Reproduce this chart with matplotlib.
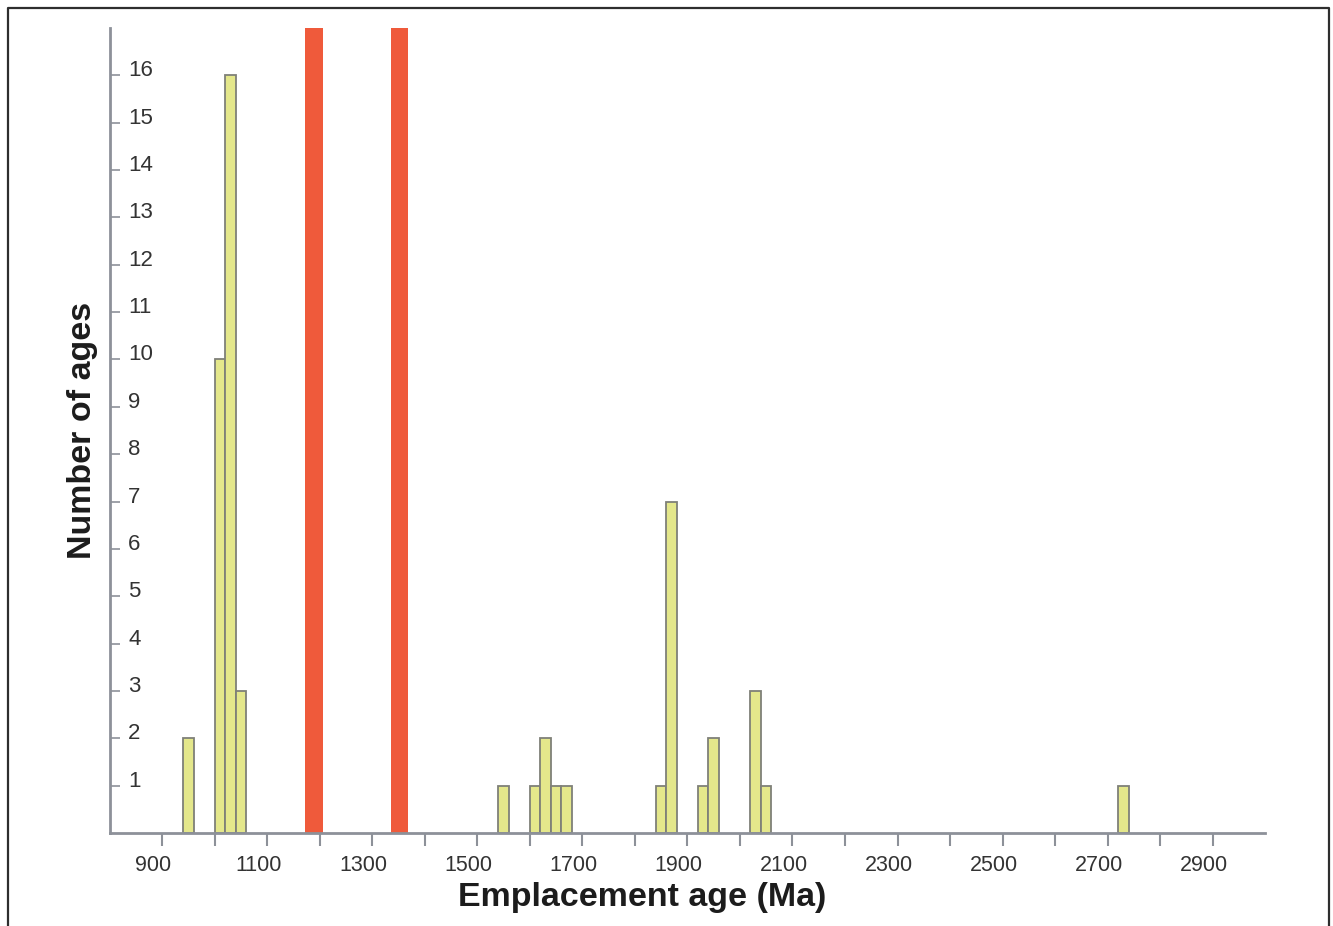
import numpy as np
import matplotlib
matplotlib.use("Agg")
import matplotlib.pyplot as plt
from matplotlib.lines import Line2D
from matplotlib.transforms import ScaledTranslation

plt.rcParams["font.family"] = ["Liberation Sans", "DejaVu Sans"]

# histogram bins (20 Ma wide, left edges) and counts
bin_starts = [940, 1000, 1020, 1040, 1540, 1600, 1620, 1640, 1660,
              1840, 1860, 1920, 1940, 2020, 2040, 2720]
counts = [2, 10, 16, 3, 1, 1, 2, 1, 1, 1, 7, 1, 2, 3, 1, 1]
bin_width = 20
# highlighted age bands (Ma)
bands = [(1172, 1205), (1336, 1368)]

x_major = list(range(900, 3000, 200))
x_minor = list(range(1000, 3000, 200))
y_ticks = list(range(1, 17))

axis_col = "#8d9199"
fig = plt.figure(figsize=(13.33, 9.26), dpi=100)
ax = fig.add_axes([0.0825, 0.1004, 0.8665, 0.8694])

for lo, hi in bands:
    ax.axvspan(lo, hi, color="#ef5a3b", lw=0, zorder=1)

ax.bar(bin_starts, counts, width=bin_width, align="edge", color="#e4e78b",
       edgecolor="#7f8078", linewidth=1.3, zorder=2)

ax.set_xlim(800, 3000)
ax.set_ylim(0, 17)
for s in ["top", "right"]:
    ax.spines[s].set_visible(False)
for s in ["left", "bottom"]:
    ax.spines[s].set_color(axis_col)
    ax.spines[s].set_linewidth(2)
    ax.spines[s].set_zorder(3)

ax.set_xticks(x_major)
ax.set_xticks(x_minor, minor=True)
ax.set_xticklabels([str(v) for v in x_major])
ax.tick_params(axis="x", which="both", direction="out", length=9, width=1.5,
               color=axis_col, labelsize=15.5, labelcolor="#333333", pad=7)
off = ScaledTranslation(-9 / 100, 0, fig.dpi_scale_trans)
for lab in ax.get_xticklabels():
    lab.set_transform(lab.get_transform() + off)

ax.set_yticks(y_ticks)
ax.set_yticklabels([str(v) for v in y_ticks])
ax.tick_params(axis="y", direction="in", length=7, width=1.2, color=axis_col,
               labelsize=16, labelcolor="#333333", pad=-13)
yoff = ScaledTranslation(0, 7 / 100, fig.dpi_scale_trans)
for lab in ax.get_yticklabels():
    lab.set_horizontalalignment("left")
    lab.set_transform(lab.get_transform() + yoff)

ax.set_xlabel("Emplacement age (Ma)", fontsize=24.5, fontweight="bold", color="#1c1c1c")
ax.xaxis.set_label_coords(0.4606, -0.0807)
ax.xaxis.label.set_va("center")
ax.set_ylabel("Number of ages", fontsize=24.5, fontweight="bold", color="#1c1c1c")
ax.yaxis.set_label_coords(-0.0234, 0.5)
ax.yaxis.label.set_va("center")

# outer frame (left, top, right)
W, H = 1333, 926
fx = [8 / W, 8 / W, 1329 / W, 1329 / W]
fy = [0, 1 - 8 / H, 1 - 8 / H, 0]
fig.add_artist(Line2D(fx, fy, transform=fig.transFigure, color="#2e2e2e", lw=1.6))

fig.savefig("out.png", dpi=100)
